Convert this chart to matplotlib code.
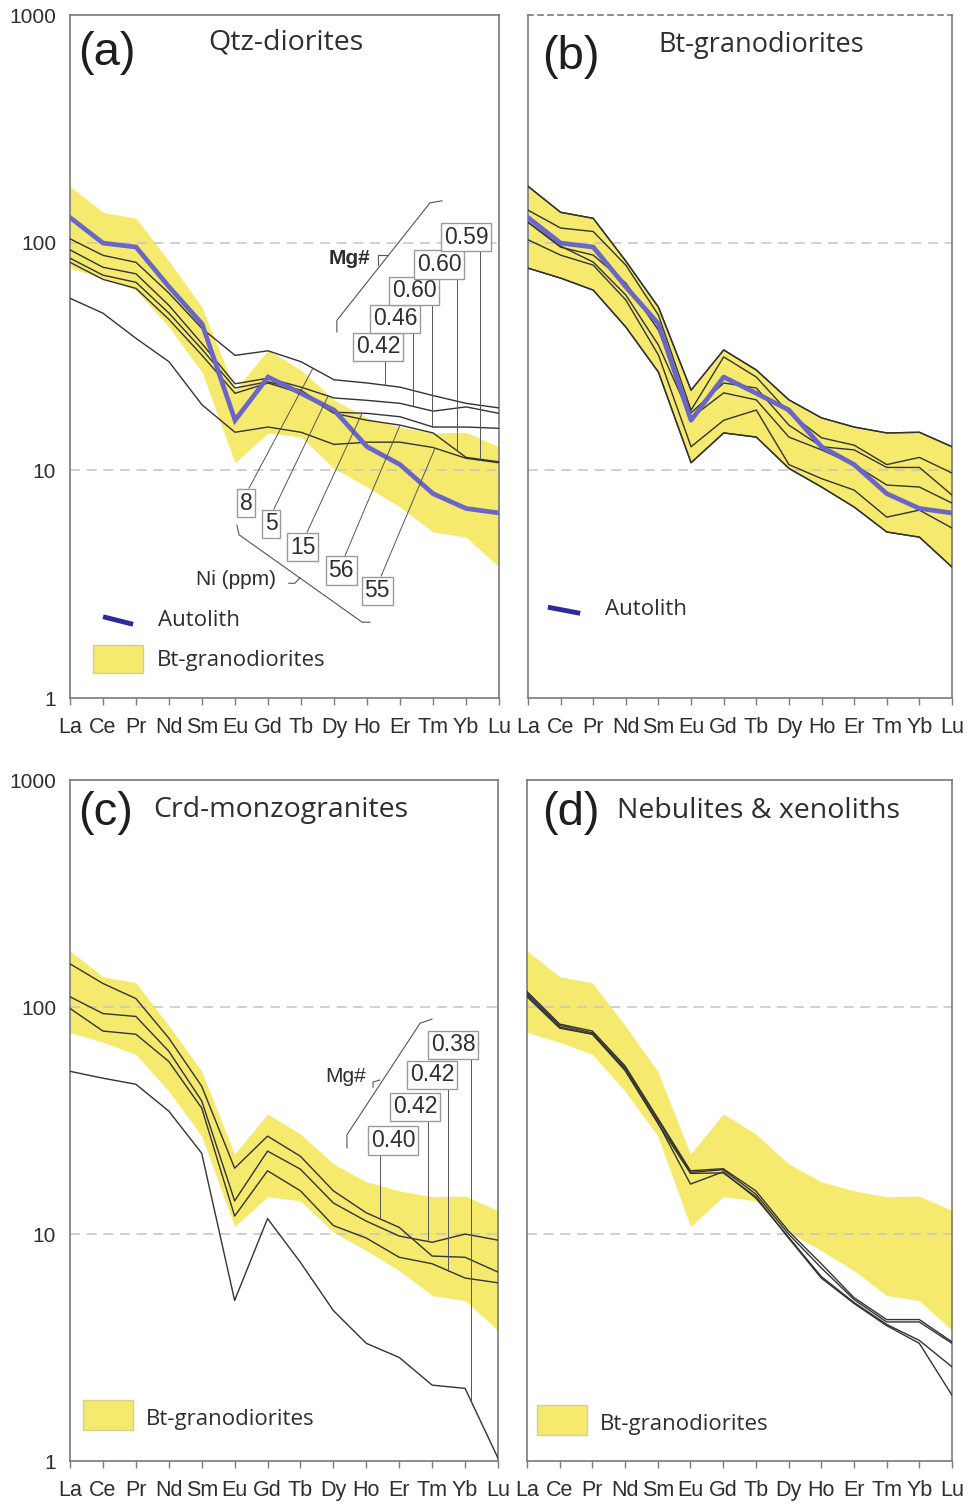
import numpy as np
import matplotlib
matplotlib.use("Agg")
import matplotlib.pyplot as plt
from matplotlib.patches import Rectangle
from matplotlib.ticker import NullLocator

# -----------------------------
# Chondrite-normalised REE data
# -----------------------------

ree = ["La", "Ce", "Pr", "Nd", "Sm", "Eu", "Gd", "Tb", "Dy", "Ho", "Er", "Tm", "Yb", "Lu"]

# Bt-granodiorite samples; their min/max envelope is the yellow field
bt_granodiorites = [
    [177, 136, 128, 83.0, 52.1, 22.5, 33.8, 27.6, 20.4, 17.0, 15.5, 14.6, 14.7, 12.7],
    [139, 116, 112, 79.7, 48.1, 18.4, 31.5, 25.7, 17.9, 13.9, 12.9, 10.6, 11.4, 9.73],
    [123, 95.6, 88.2, 66.5, 41.3, 17.9, 24.2, 23.0, 15.8, 12.7, 12.3, 10.3, 10.3, 7.79],
    [123, 96.6, 82.2, 58.9, 35.5, 17.0, 21.9, 20.4, 14.0, 12.3, 10.6, 8.62, 8.45, 7.18],
    [103, 88.2, 79.7, 56.0, 32.1, 12.7, 16.6, 18.4, 10.6, 9.20, 8.19, 6.23, 6.69, 5.58],
    [77.3, 69.9, 61.9, 42.6, 27.0, 10.8, 14.6, 14.0, 10.2, 8.45, 6.90, 5.36, 5.09, 3.76],
]

autolith = [129, 99.6, 95.7, 64.0, 44.0, 16.6, 25.7, 21.8, 18.4, 12.7, 10.6, 7.9, 6.8, 6.5]

qtz_diorites = [
    [104, 88.0, 82.0, 60.0, 42.0, 32.0, 33.5, 30.0, 25.0, 24.2, 23.2, 21.3, 19.7, 18.8],
    [93.0, 78.0, 73.0, 53.0, 36.0, 24.0, 25.4, 23.2, 20.8, 20.3, 19.7, 18.2, 19.0, 17.8],
    [85.5, 72.0, 67.0, 49.0, 34.0, 23.0, 24.5, 22.5, 18.0, 17.8, 17.2, 15.5, 15.5, 15.3],
    [82.0, 69.0, 63.0, 46.0, 32.0, 21.8, 24.2, 21.8, 17.8, 16.6, 15.8, 14.6, 11.4, 10.9],
    [57.0, 49.0, 38.0, 30.0, 19.4, 14.7, 15.5, 14.7, 13.0, 13.3, 13.3, 12.6, 11.3, 10.8],
]
qtz_ni = ["8", "5", "15", "56", "55"]
qtz_mg = [0.42, 0.46, 0.60, 0.60, 0.59]

crd_monzogranites = [
    [155, 127, 109, 73.0, 44.8, 19.5, 27.0, 22.0, 15.5, 12.4, 10.7, 8.0, 7.9, 6.8],
    [111, 93.6, 90.9, 63.9, 38.6, 14.0, 23.2, 19.3, 13.7, 11.4, 9.8, 9.2, 10.0, 9.4],
    [98.6, 78.4, 75.9, 57.6, 35.9, 12.0, 19.0, 15.5, 10.9, 9.6, 7.9, 7.4, 6.4, 6.1],
    [52.1, 48.6, 45.7, 34.8, 22.7, 5.1, 11.7, 7.5, 4.6, 3.3, 2.86, 2.16, 2.09, 1.03],
]
crd_mg = [0.40, 0.42, 0.42, 0.38]

nebulites = [
    [117, 84.1, 78.4, 55.0, 32.4, 19.0, 19.4, 15.5, 10.3, 7.4, 5.25, 4.2, 4.2, 3.35],
    [115, 83.0, 77.0, 54.0, 31.8, 18.7, 19.2, 15.0, 10.0, 7.1, 5.15, 4.1, 4.1, 3.30],
    [113, 81.5, 76.0, 53.0, 31.0, 16.6, 18.8, 14.4, 9.7, 6.5, 5.0, 4.0, 3.4, 2.6],
    [111, 80.7, 75.9, 52.5, 30.8, 18.5, 18.6, 14.6, 9.6, 6.4, 4.95, 3.95, 3.3, 1.95],
]

# -----------------------------
# Styling
# -----------------------------

FIELD = "#F5EA6E"
LINE = "#333333"
BLUE = "#6A66C8"
BLUE_KEY = "#2B2B9C"
SPINE = "#7a7a7a"
LEAD = "#555555"
TXT = "#2e2e2e"
HELV = ["Liberation Sans", "DejaVu Sans"]
NARROW = ["Liberation Sans Narrow", "Liberation Sans", "DejaVu Sans"]
HUMAN = ["Open Sans", "DejaVu Sans"]
BOX = dict(boxstyle="square,pad=0.12", fc="white", ec="#9a9a9a", lw=1.0)

x = np.arange(len(ree))
band_hi = np.max(np.array(bt_granodiorites), axis=0)
band_lo = np.min(np.array(bt_granodiorites), axis=0)


def frac_to_data(fx, fy):
    # axes fraction -> data coordinates (x 0..13, log y 1..1000)
    return fx * 13.0, 10 ** (3.0 * fy)


def on_line(series, xd):
    # value of a pattern at fractional element position, interpolated in log space
    i = min(int(np.floor(xd)), len(series) - 2)
    t = xd - i
    return 10 ** ((1 - t) * np.log10(series[i]) + t * np.log10(series[i + 1]))


def setup_axes(ax, show_y):
    ax.set_yscale("log")
    ax.set_xlim(0, 13)
    ax.set_ylim(1, 1000)
    ax.set_xticks(x)
    ax.set_xticklabels(ree, fontsize=15.5, family=NARROW, color=TXT)
    ax.tick_params(axis="x", direction="out", length=5, width=1.0, color=SPINE, pad=9)
    ax.yaxis.set_minor_locator(NullLocator())
    if show_y:
        ax.set_yticks([1, 10, 100, 1000])
        ax.set_yticklabels(["1", "10", "100", "1000"], fontsize=15, family=HELV, color=TXT)
        ax.tick_params(axis="y", length=0, pad=10)
    else:
        ax.set_yticks([])
    for v in (10, 100):
        ax.axhline(v, ls=(0, (6, 4)), color="#c8c8c8", lw=1.2, zorder=1.5)
    for sp in ax.spines.values():
        sp.set_color(SPINE)
        sp.set_linewidth(1.2)


def draw_field(ax, outlined=False):
    ax.fill_between(x, band_lo, band_hi, color=FIELD, lw=0, zorder=1)
    if outlined:
        ax.plot(x, band_hi, color=LINE, lw=1.0, zorder=3)
        ax.plot(x, band_lo, color=LINE, lw=1.0, zorder=3)


def panel_title(ax, tag, name, tag_pos, name_pos, size=20):
    ax.text(tag_pos[0], tag_pos[1], tag, transform=ax.transAxes, fontsize=34,
            family=HELV, color="#1e1e1e", ha="left", va="center")
    ax.text(name_pos[0], name_pos[1], name, transform=ax.transAxes, fontsize=size,
            family=HUMAN, color=TXT, ha="left", va="baseline")


def field_key(ax, x0, y0, w, h, tx, ty):
    ax.add_patch(Rectangle((x0, y0), w, h, transform=ax.transAxes, fc=FIELD,
                           ec="#d9d08a", lw=1.0, zorder=6))
    ax.text(tx, ty, "Bt-granodiorites", transform=ax.transAxes, fontsize=16,
            family=HUMAN, color=TXT, ha="left", va="center")


def autolith_key(ax, xs, ys, tx, ty):
    ax.plot(xs, ys, transform=ax.transAxes, color=BLUE_KEY, lw=3.5,
            solid_capstyle="butt", zorder=6)
    ax.text(tx, ty, "Autolith", transform=ax.transAxes, fontsize=16,
            family=HUMAN, color=TXT, ha="left", va="center")


def mg_labels(ax, samples, values, box_pos, lead_fx):
    for s, v, (bx, by), lx in zip(samples, values, box_pos, lead_fx):
        xd, yb = frac_to_data(bx, by)
        ld = lx * 13.0
        ax.plot([ld, ld], [yb, on_line(s, ld)], color=LEAD, lw=0.7, zorder=5)
        ax.text(xd, yb, f"{v:.2f}", fontsize=16.5, family=HELV, color=TXT,
                ha="center", va="center", bbox=BOX, zorder=7)


fig = plt.figure(figsize=(9.67, 15.05), dpi=100)
ax_a = fig.add_axes([0.0724, 0.5362, 0.4437, 0.4538])
ax_b = fig.add_axes([0.5460, 0.5362, 0.4385, 0.4538])
ax_c = fig.add_axes([0.0724, 0.0292, 0.4426, 0.4525])
ax_d = fig.add_axes([0.5450, 0.0292, 0.4395, 0.4525])

# -----------------------------
# (a) Qtz-diorites
# -----------------------------
ax = ax_a
setup_axes(ax, True)
draw_field(ax)
for s in qtz_diorites:
    ax.plot(x, s, color=LINE, lw=1.0, zorder=3)
ax.plot(x, autolith, color=BLUE, lw=3.4, zorder=4, solid_joinstyle="miter")
panel_title(ax, "(a)", "Qtz-diorites", (0.020, 0.944), (0.322, 0.949), 20.5)

# Mg# boxes with vertical leaders
mg_labels(ax, qtz_diorites, qtz_mg,
          [(0.718, 0.514), (0.758, 0.555), (0.802, 0.596), (0.860, 0.635), (0.923, 0.675)],
          [0.734, 0.800, 0.844, 0.902, 0.956])
ax.plot([0.622, 0.622, 0.839, 0.867], [0.536, 0.553, 0.725, 0.728],
        transform=ax.transAxes, color=LEAD, lw=0.8, zorder=5)
ax.plot([0.741, 0.718, 0.718], [0.649, 0.649, 0.634],
        transform=ax.transAxes, color=LEAD, lw=0.8, zorder=5)
ax.text(0.699, 0.643, "Mg#", transform=ax.transAxes, fontsize=15, fontweight="bold",
        family=HELV, color=TXT, ha="right", va="center")

# Ni contents, leaders run to the pattern
ni_pos = [(0.410, 0.2855), (0.4685, 0.2548), (0.543, 0.221), (0.632, 0.187), (0.716, 0.157)]
ni_target = [7.36, 7.82, 8.85, 10.0, 11.06]
for s, lab, (bx, by), xd in zip(qtz_diorites, qtz_ni, ni_pos, ni_target):
    ax.annotate(lab, xy=(xd, on_line(s, xd)), xycoords="data",
                xytext=(bx, by), textcoords="axes fraction",
                fontsize=16.5, family=HELV, color=TXT, ha="center", va="center",
                bbox=BOX, zorder=7,
                arrowprops=dict(arrowstyle="-", color=LEAD, lw=0.7,
                                shrinkA=0, shrinkB=0, relpos=(0.6, 1.0)))
ax.plot([0.389, 0.394, 0.681, 0.699], [0.253, 0.239, 0.111, 0.111],
        transform=ax.transAxes, color=LEAD, lw=0.8, zorder=5)
ax.plot([0.536, 0.524, 0.510], [0.176, 0.168, 0.168],
        transform=ax.transAxes, color=LEAD, lw=0.8, zorder=5)
ax.text(0.387, 0.174, "Ni (ppm)", transform=ax.transAxes, fontsize=15,
        family=HELV, color=TXT, ha="center", va="center")

autolith_key(ax, [0.077, 0.147], [0.119, 0.108], 0.205, 0.113)
field_key(ax, 0.054, 0.0366, 0.116, 0.041, 0.203, 0.0556)

# -----------------------------
# (b) Bt-granodiorites
# -----------------------------
ax = ax_b
setup_axes(ax, False)
draw_field(ax, outlined=True)
for s in bt_granodiorites:
    ax.plot(x, s, color=LINE, lw=1.0, zorder=3)
ax.plot(x, autolith, color=BLUE, lw=3.4, zorder=4)
ax.spines["top"].set_linestyle((0, (3, 3)))
panel_title(ax, "(b)", "Bt-granodiorites", (0.033, 0.939), (0.307, 0.946), 19.5)
autolith_key(ax, [0.047, 0.123], [0.133, 0.124], 0.182, 0.129)

# -----------------------------
# (c) Crd-monzogranites
# -----------------------------
ax = ax_c
setup_axes(ax, True)
draw_field(ax)
for s in crd_monzogranites:
    ax.plot(x, s, color=LINE, lw=1.0, zorder=3)
panel_title(ax, "(c)", "Crd-monzogranites", (0.020, 0.951), (0.194, 0.946), 20.5)
mg_labels(ax, crd_monzogranites, crd_mg,
          [(0.755, 0.471), (0.806, 0.520), (0.846, 0.567), (0.895, 0.611)],
          [0.724, 0.836, 0.883, 0.937])
ax.plot([0.647, 0.647, 0.818, 0.846], [0.460, 0.479, 0.643, 0.649],
        transform=ax.transAxes, color=LEAD, lw=0.8, zorder=5)
ax.plot([0.724, 0.708, 0.708], [0.5595, 0.5565, 0.549],
        transform=ax.transAxes, color=LEAD, lw=0.8, zorder=5)
ax.text(0.643, 0.565, "Mg#", transform=ax.transAxes, fontsize=15,
        family=HELV, color=TXT, ha="center", va="center")
field_key(ax, 0.030, 0.0455, 0.117, 0.044, 0.178, 0.0617)

# -----------------------------
# (d) Nebulites & xenoliths
# -----------------------------
ax = ax_d
setup_axes(ax, False)
draw_field(ax)
for s in nebulites:
    ax.plot(x, s, color=LINE, lw=1.0, zorder=3)
panel_title(ax, "(d)", "Nebulites & xenoliths", (0.036, 0.951), (0.212, 0.944), 20.5)
field_key(ax, 0.0235, 0.038, 0.118, 0.044, 0.172, 0.054)

fig.savefig("out.png", dpi=100)
